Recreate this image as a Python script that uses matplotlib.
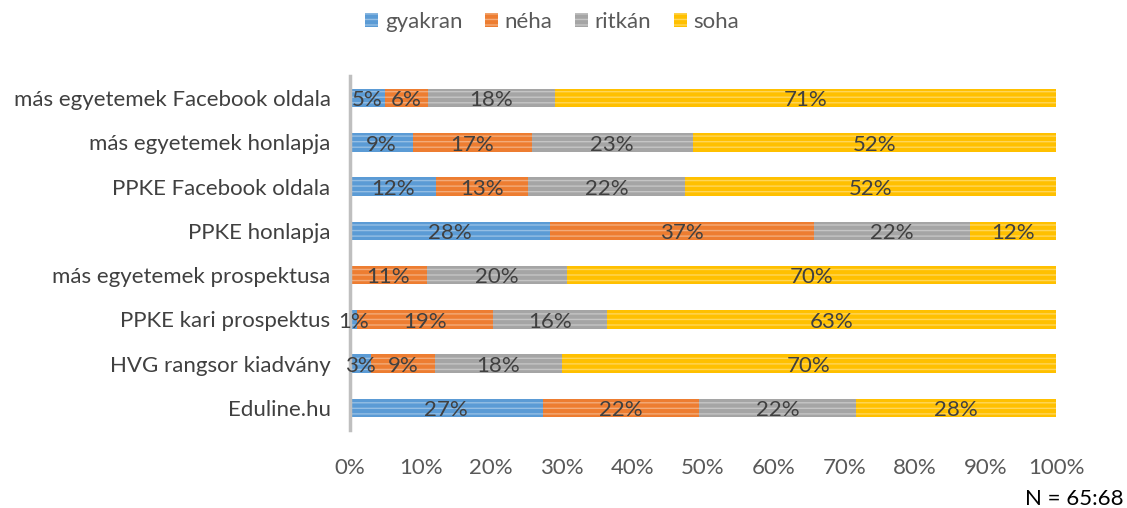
import matplotlib.pyplot as plt
import matplotlib.colors as mcolors
from matplotlib.patches import Patch
import numpy as np

plt.rcParams['font.family'] = ['Lato', 'DejaVu Sans']
plt.rcParams['hatch.linewidth'] = 1.0

categories = ['más egyetemek Facebook oldala', 'más egyetemek honlapja', 'PPKE Facebook oldala',
              'PPKE honlapja', 'más egyetemek prospektusa', 'PPKE kari prospektus',
              'HVG rangsor kiadvány', 'Eduline.hu']
series = ['gyakran', 'néha', 'ritkán', 'soha']
gyakran = [5, 9, 12, 28, 0, 1, 3, 27]
neha = [6, 17, 13, 37, 11, 19, 9, 22]
ritkan = [18, 23, 22, 22, 20, 16, 18, 22]
soha = [71, 52, 52, 12, 70, 63, 70, 28]
colors = ['#5b9bd5', '#ed7d31', '#a5a5a5', '#ffc000']


def lighter(c, f=0.35):
    r = np.array(mcolors.to_rgb(c))
    return tuple(r + (1 - r) * f)


vals = np.array([gyakran, neha, ritkan, soha], dtype=float)
totals = vals.sum(axis=0)
shares = vals / totals

fs = 16
fig = plt.figure(figsize=(11.27, 5.08), dpi=100)
ax = fig.add_axes([350 / 1127, 1 - 430 / 508, 706 / 1127, 354 / 508])

y = np.arange(len(categories))[::-1]
left = np.zeros(len(categories))
for i, name in enumerate(series):
    ax.barh(y, shares[i], left=left, height=0.42, color=colors[i],
            edgecolor=lighter(colors[i]), linewidth=0, hatch='---')
    for j in range(len(categories)):
        if vals[i, j] > 0:
            ax.text(left[j] + shares[i, j] / 2, y[j] - 0.05, '%d%%' % vals[i, j],
                    ha='center', va='center', fontsize=fs, color='#404040')
    left += shares[i]

ax.set_xlim(0, 1)
ax.set_ylim(-0.5, len(categories) - 0.5)
ax.set_yticks(y)
ax.set_yticklabels(categories, fontsize=fs, color='#404040')
ax.set_xticks(np.linspace(0, 1, 11))
ax.set_xticklabels(['%d%%' % v for v in range(0, 101, 10)], fontsize=fs, color='#595959')
ax.tick_params(length=0, axis='y', pad=14)
ax.tick_params(length=0, axis='x', pad=20)
for s in ['top', 'right', 'bottom']:
    ax.spines[s].set_visible(False)
ax.spines['left'].set_color('#bfbfbf')
ax.spines['left'].set_linewidth(2.5)

handles = [Patch(facecolor=c, edgecolor=lighter(c), linewidth=0, hatch='---') for c in colors]
fig.legend(handles, series, loc='center', bbox_to_anchor=(0.49, 1 - 22 / 508), ncol=4,
           frameon=False, fontsize=fs, handlelength=0.6, handleheight=0.6,
           handletextpad=0.3, columnspacing=1.0, labelcolor='#595959')

fig.text(1124 / 1127, 1 - 499 / 508, 'N = 65:68', ha='right', va='center', fontsize=fs, color='#000000')

fig.savefig('out.png', dpi=100)
